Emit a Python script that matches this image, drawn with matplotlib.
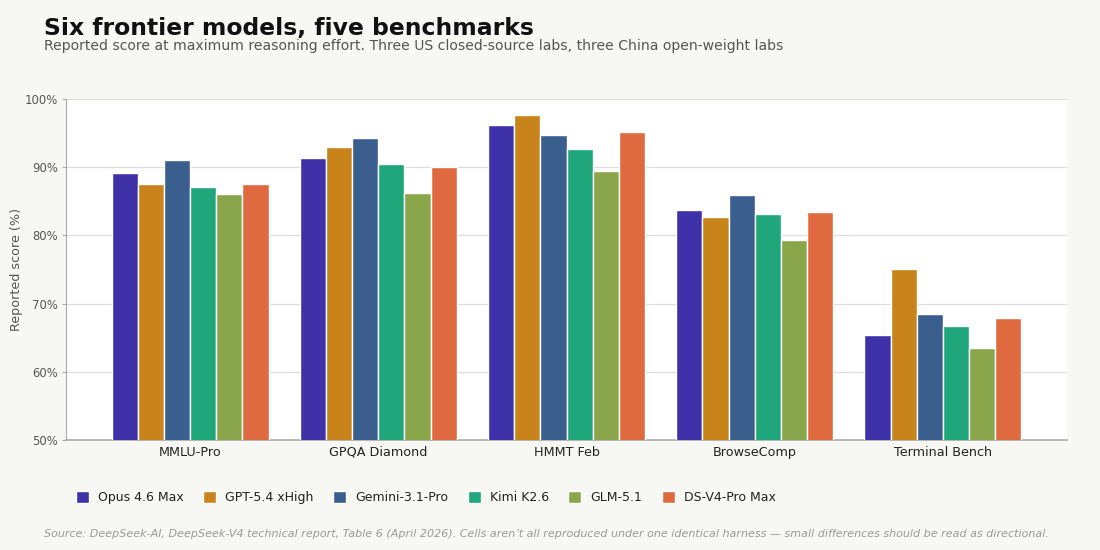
import matplotlib
matplotlib.use("Agg")
import matplotlib.pyplot as plt
import numpy as np
from matplotlib.ticker import FuncFormatter

benchmarks = ["MMLU-Pro", "GPQA Diamond", "HMMT Feb", "BrowseComp", "Terminal Bench"]
models = ["Opus 4.6 Max", "GPT-5.4 xHigh", "Gemini-3.1-Pro", "Kimi K2.6", "GLM-5.1", "DS-V4-Pro Max"]
opus = [89.1, 91.3, 96.2, 83.7, 65.4]
gpt = [87.5, 92.9, 97.7, 82.7, 75.1]
gemini = [91.0, 94.3, 94.7, 85.9, 68.5]
kimi = [87.1, 90.5, 92.7, 83.2, 66.7]
glm = [86.0, 86.2, 89.4, 79.3, 63.5]
dsv4 = [87.5, 90.1, 95.2, 83.4, 67.9]
series = [opus, gpt, gemini, kimi, glm, dsv4]
colors = ["#3f32a8", "#c8841a", "#3a5f8e", "#1fa67a", "#8aa64a", "#e06a40"]

bg = "#f7f7f3"
fig = plt.figure(figsize=(11, 5.5), dpi=100, facecolor=bg)
ax = fig.add_axes([0.06, 0.2, 0.91, 0.62])
ax.set_facecolor("white")

x = np.arange(len(benchmarks))
w = 0.139
for i, (vals, c, m) in enumerate(zip(series, colors, models)):
    ax.bar(x + (i - 2.5) * w, vals, width=w, color=c, edgecolor="white",
           linewidth=1.0, label=m, zorder=3)

ax.set_ylim(50, 100)
ax.set_xlim(-0.66, 4.66)
ax.set_yticks([50, 60, 70, 80, 90, 100])
ax.yaxis.set_major_formatter(FuncFormatter(lambda v, p: f"{int(v)}%"))
ax.set_xticks(x)
ax.set_xticklabels(benchmarks, fontsize=9.2, color="#222222")
ax.tick_params(axis="y", labelsize=8.4, colors="#555555", length=3, color="#aaaaaa", pad=3)
ax.tick_params(axis="x", length=0, pad=4)
ax.grid(axis="y", color="#dddddd", linewidth=0.9, zorder=0)
ax.set_axisbelow(True)
for s in ["top", "right"]:
    ax.spines[s].set_visible(False)
ax.spines["left"].set_color("#aaaaaa")
ax.spines["bottom"].set_color("#aaaaaa")
ax.spines["bottom"].set_linewidth(1.2)
ax.set_ylabel("Reported score (%)", fontsize=9.2, color="#555555", labelpad=1)

fig.text(0.04, 0.948, "Six frontier models, five benchmarks", fontsize=16.9,
         fontweight="bold", color="#111111", va="center", ha="left")
fig.text(0.04, 0.916, "Reported score at maximum reasoning effort. Three US closed-source labs, three China open-weight labs",
         fontsize=10.1, color="#555555", va="center", ha="left")

handles, labels = ax.get_legend_handles_labels()
leg = fig.legend(handles, labels, loc="center left", bbox_to_anchor=(0.069, 0.0955),
                 ncol=6, frameon=False, fontsize=9, handlelength=1.05,
                 handleheight=1.05, handletextpad=0.72, columnspacing=1.55,
                 borderpad=0, borderaxespad=0)
for t in leg.get_texts():
    t.set_color("#222222")

fig.text(0.04, 0.029, "Source: DeepSeek-AI, DeepSeek-V4 technical report, Table 6 (April 2026). Cells aren\u2019t all reproduced under one identical harness \u2014 small differences should be read as directional.",
         fontsize=8, style="italic", color="#999999", va="center", ha="left")

fig.savefig("out.png", dpi=100, facecolor=bg)
